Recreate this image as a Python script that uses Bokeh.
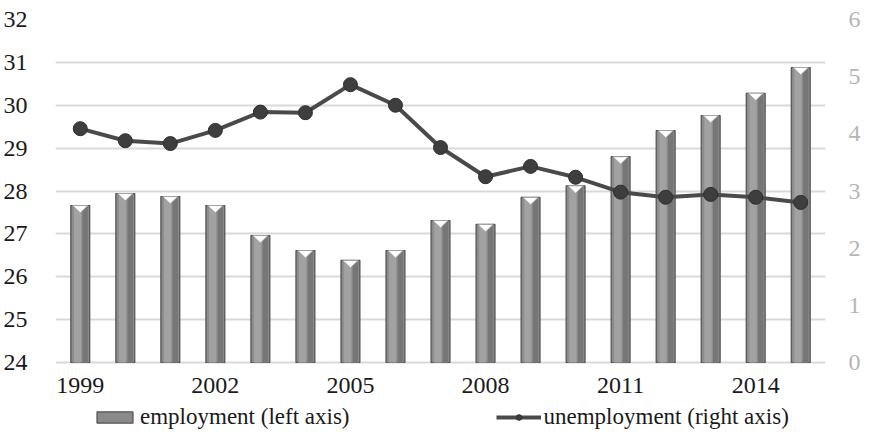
from bokeh.plotting import figure
from bokeh.models import (Range1d, LinearAxis, FixedTicker, Legend, LegendItem, ColumnDataSource)
from bokeh.core.properties import value
from bokeh.embed import file_html
from bokeh.resources import INLINE

years = list(range(1999, 2016))
employment = [27.66, 27.94, 27.87, 27.66, 26.96, 26.61, 26.38, 26.61, 27.31, 27.22,
              27.85, 28.12, 28.80, 29.41, 29.76, 30.28, 30.88]
unemployment = [4.09, 3.88, 3.83, 4.06, 4.38, 4.37, 4.86, 4.50, 3.76, 3.25,
                3.43, 3.24, 2.98, 2.89, 2.94, 2.89, 2.80]
left_ticks = [24, 25, 26, 27, 28, 29, 30, 31, 32]
right_ticks = [0, 1, 2, 3, 4, 5, 6]
x_ticks = [1999, 2002, 2005, 2008, 2011, 2014]
x_labels = [str(t) for t in x_ticks]

FONT = "Liberation Serif"

W, H = 863, 430
BL, BR, BT, BB = 55, 31, 19, 0
frame_h = H - BT - BB
axis_px = 343.0                       # pixels between 24 and 32 on the left axis
extra = frame_h - axis_px             # room below the axis for labels + legend
lo_left = left_ticks[0] - extra * (left_ticks[-1] - left_ticks[0]) / axis_px
lo_right = right_ticks[0] - extra * (right_ticks[-1] - right_ticks[0]) / axis_px

src = ColumnDataSource(dict(year=years, emp=employment, unemp=unemployment,
                            hl=[y - 0.06 for y in years],
                            hr=[y + 0.11 for y in years]))
notch = ColumnDataSource(dict(
    xs=[[y - 0.17, y + 0.17, y] for y in years],
    ys=[[e, e, e - 0.17] for e in employment]))
xl = ColumnDataSource(dict(x=x_ticks, y=[left_ticks[0]] * len(x_ticks), t=x_labels))

p = figure(width=W, height=H, output_backend="svg", toolbar_location=None,
           x_range=Range1d(1998.45, 2015.55), y_range=Range1d(lo_left, left_ticks[-1]),
           x_axis_location=None,
           min_border_left=BL, min_border_right=BR, min_border_top=BT, min_border_bottom=BB)
p.extra_y_ranges = {"u": Range1d(lo_right, right_ticks[-1])}
p.outline_line_color = None
p.background_fill_color = "white"
p.border_fill_color = "white"
p.xgrid.grid_line_color = None
p.ygrid.grid_line_color = "#d9d9d9"
p.ygrid.grid_line_width = 2
p.ygrid.ticker = FixedTicker(ticks=left_ticks)

# bars (layered to mimic the cylinder gradient)
b1 = p.vbar(x="year", top="emp", bottom=left_ticks[0], width=0.42, source=src,
            fill_color="#8a8a8a", line_color="#505050", line_width=1.2)
b2 = p.vbar(x="year", top="emp", bottom=left_ticks[0], width=0.36, source=src,
            fill_color="#8e8e8e", line_color=None)
b2r = p.vbar(x="hr", top="emp", bottom=left_ticks[0], width=0.12, source=src,
             fill_color="#767676", line_color=None)
b3 = p.vbar(x="hl", top="emp", bottom=left_ticks[0], width=0.16, source=src,
            fill_color="#a2a2a2", line_color=None)
p.patches(xs="xs", ys="ys", source=notch, fill_color="white", line_color="#9a9a9a",
          line_width=0.8)

# unemployment line
l1 = p.line(x="year", y="unemp", source=src, y_range_name="u",
            line_color="#4a4a4a", line_width=4)
c1 = p.scatter(x="year", y="unemp", source=src, y_range_name="u", size=14,
               fill_color="#3e3e3e", line_color="#2e2e2e", line_width=1)

# x tick labels
p.text(x="x", y="y", text="t", source=xl, text_font=value(FONT),
       text_font_size="24px", text_color="#1a1a1a", text_align="center",
       text_baseline="middle", y_offset=23)

# axes
p.yaxis.ticker = FixedTicker(ticks=left_ticks)
ax = p.yaxis[0]
ax.axis_line_color = None
ax.major_tick_line_color = None
ax.minor_tick_line_color = None
ax.major_label_text_font = FONT
ax.major_label_text_font_size = "24px"
ax.major_label_text_color = "#1a1a1a"
ax.major_label_standoff = 22

ra = LinearAxis(y_range_name="u", ticker=FixedTicker(ticks=right_ticks))
ra.axis_line_color = None
ra.major_tick_line_color = None
ra.minor_tick_line_color = None
ra.major_label_text_font = FONT
ra.major_label_text_font_size = "24px"
ra.major_label_text_color = "#b5b5b5"
ra.major_label_standoff = 17
p.add_layout(ra, "right")

legend = Legend(items=[
    LegendItem(label="employment (left axis)", renderers=[b1]),
    LegendItem(label="unemployment (right axis)", renderers=[l1, c1]),
], orientation="horizontal", location=(37, 0))
legend.label_text_font = FONT
legend.label_text_font_size = "23px"
legend.label_text_color = "#1a1a1a"
legend.glyph_width = 45
legend.glyph_height = 14
legend.spacing = 146
legend.label_standoff = 3
legend.border_line_color = None
legend.background_fill_alpha = 0
legend.padding = 0
legend.margin = 0
p.add_layout(legend, "center")

open("out.html", "w").write(file_html(p, INLINE))
